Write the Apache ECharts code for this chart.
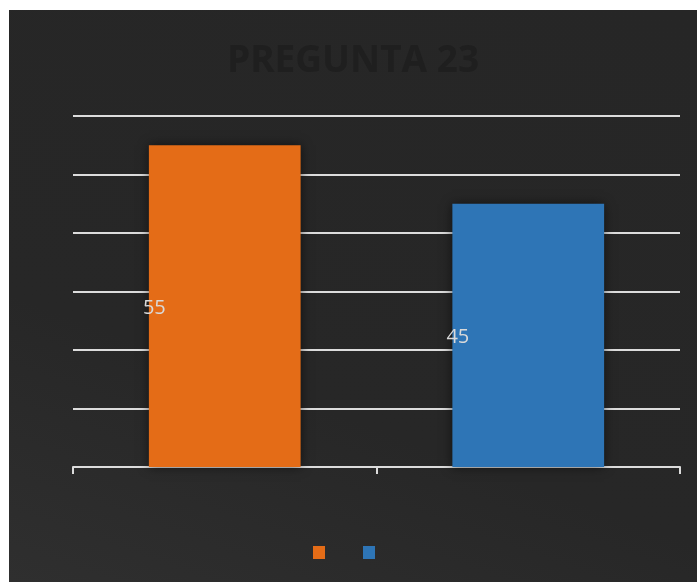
<!DOCTYPE html>
<html>
<head>
<meta charset="utf-8">
<script src="https://cdn.jsdelivr.net/npm/echarts@6/dist/echarts.min.js"></script>
<style>
  html, body { margin: 0; padding: 0; background: #fff; }
  #chart {
    position: absolute; left: 9px; top: 10px; width: 688px; height: 572px;
    background: linear-gradient(20deg, #2f2f2f 0%, #272727 35%, #262626 100%);
  }
</style>
</head>
<body>
<div id="chart"></div>
<script>
// datos de la gráfica
const titulo = "PREGUNTA 23";
const categorias = ["Opción 1", "Opción 2"];
const serieNaranja = [55, null];
const serieAzul = [null, 45];
const coloresSerie = ["#E46C17", "#2E75B6"];

const myChart = echarts.init(document.getElementById("chart"));

const labelComun = {
  show: true,
  position: "insideLeft",
  offset: [-11, 2],
  color: "#d9d9d9",
  fontSize: 20,
  fontFamily: "Open Sans",
};

const sombra = {
  shadowBlur: 10,
  shadowColor: "rgba(0,0,0,0.55)",
};

const option = {
  backgroundColor: "transparent",
  title: {
    text: titulo,
    left: "center",
    top: 28,
    textStyle: {
      color: "#1f1f1f",
      fontSize: 37,
      fontWeight: "bold",
      fontFamily: "Open Sans",
    },
  },
  legend: {
    left: 299,
    top: 531,
    icon: "rect",
    itemWidth: 12,
    itemHeight: 13,
    itemGap: 38,
    formatter: () => "",
    data: ["Naranja", "Azul"],
  },
  grid: { left: 64, right: 17, top: 106, bottom: 115 },
  xAxis: {
    type: "category",
    data: categorias,
    axisLine: { lineStyle: { color: "#dcdcdc", width: 2 } },
    axisTick: { show: true, length: 7, lineStyle: { color: "#dcdcdc", width: 2 } },
    axisLabel: { show: false },
  },
  yAxis: {
    type: "value",
    min: 0,
    max: 60,
    interval: 10,
    axisLabel: { show: false },
    axisLine: { show: false },
    axisTick: { show: false },
    splitLine: { lineStyle: { color: "#dcdcdc", width: 2 } },
  },
  series: [
    {
      name: "Naranja",
      type: "bar",
      stack: "total",
      barWidth: "50%",
      data: serieNaranja,
      itemStyle: Object.assign({ color: coloresSerie[0] }, sombra),
      label: labelComun,
    },
    {
      name: "Azul",
      type: "bar",
      stack: "total",
      barWidth: "50%",
      data: serieAzul,
      itemStyle: Object.assign({ color: coloresSerie[1] }, sombra),
      label: labelComun,
    },
  ],
};

option && myChart.setOption(option);
</script>
</body>
</html>
